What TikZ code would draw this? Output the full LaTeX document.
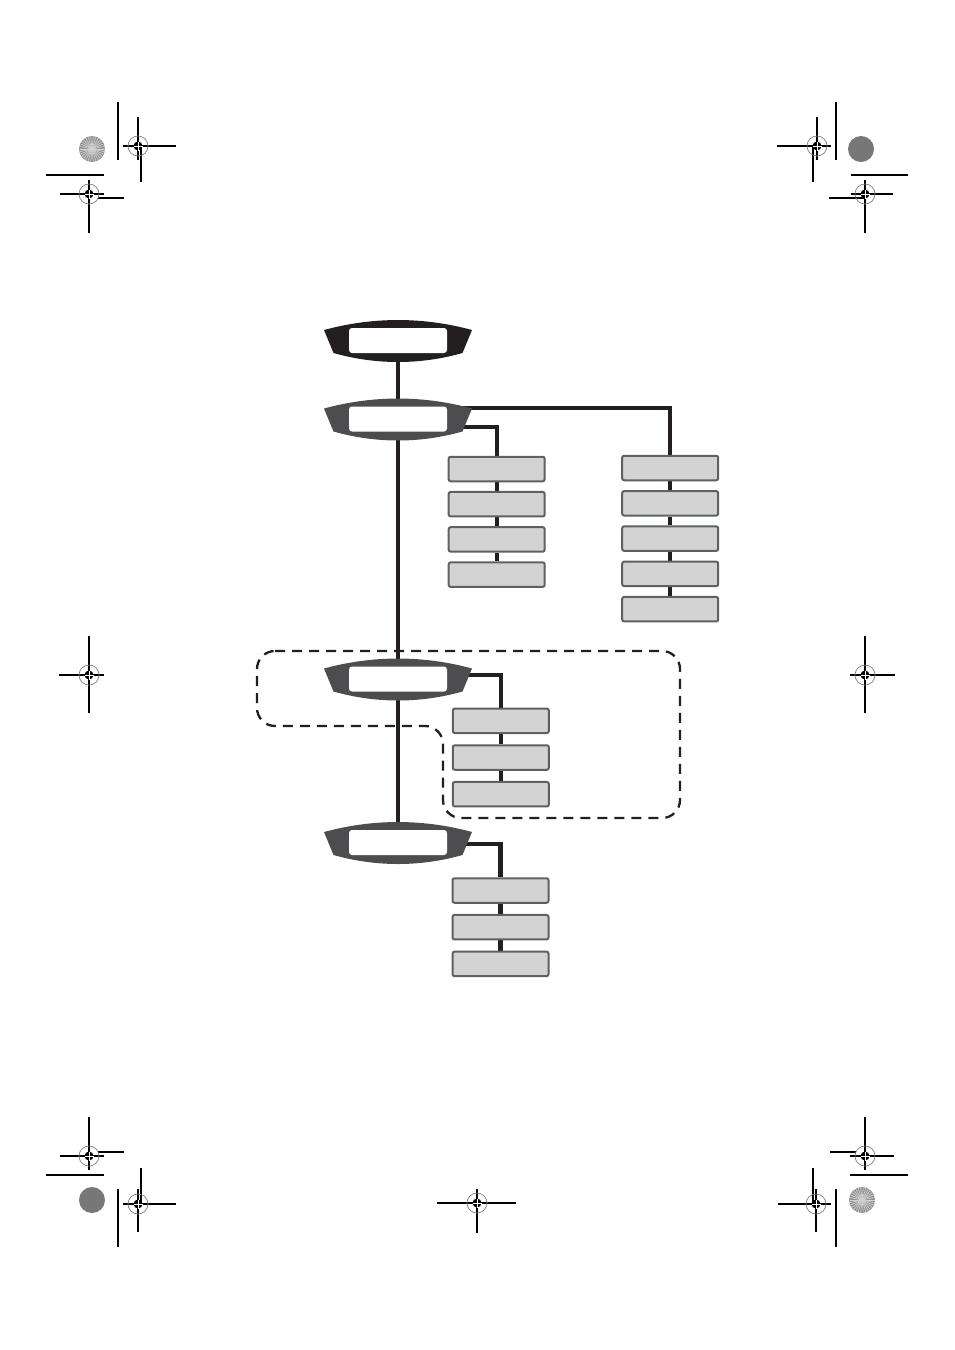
\documentclass[tikz,border=0pt]{standalone}
\usepackage{tikz}
\usetikzlibrary{positioning,backgrounds}
\definecolor{ink}{HTML}{231F20}
\definecolor{slate}{HTML}{4D4D4F}
\definecolor{keyfill}{HTML}{D3D3D3}
\definecolor{keyedge}{HTML}{5D6163}
\definecolor{disk}{HTML}{777777}

\begin{document}
\begin{tikzpicture}[x=1pt, y=-1pt,
  lcd/.style={fill=white, rounded corners=3pt, minimum width=98pt,
    minimum height=25pt, inner sep=0pt},
  pics/screen/.style={code={
    \fill[#1] (-74,-11) .. controls (-25,-24.3) and (25,-24.3) .. (74,-11)
      -- (64.5,12) .. controls (22,24) and (-22,24) .. (-64.5,12) -- cycle;
    \node[lcd] (-lcd) at (0,-0.5) {};
  }},
  key/.style={draw=keyedge, fill=keyfill, line width=2pt, rounded corners=2pt,
    minimum width=96pt, minimum height=24.5pt, inner sep=0pt},
  spine/.style={draw=ink, line width=4.8pt},
  link/.style={draw=ink, line width=4.2pt},
  group/.style={draw=ink, line width=2.3pt, dash pattern=on 10pt off 7pt,
    rounded corners=18pt},
  crop/.style={draw=black, line width=1.2pt},
  pics/target/.style={code={
    \draw[gray, line width=0.7pt] (0,0) circle (10pt);
    \fill[black] (0,0) circle (4.5pt);
    \draw[white, line width=0.7pt] (-4.5,0) -- (4.5,0) (0,-4.5) -- (0,4.5);
  }},
]
  \useasboundingbox (0,0) rectangle (954,1350);

  % menu levels
  \pic (s1) at (398,341) {screen=ink};
  \pic (s2) at (398,419.5) {screen=slate};
  \pic (s3) at (398,679.5) {screen=slate};
  \pic (s4) at (398,843) {screen=slate};

  % submenu entries
  \node[key] (a1) at (496.7,469) {};
  \node[key, below=8.7pt of a1] (a2) {};
  \node[key, below=8.7pt of a2] (a3) {};
  \node[key, below=8.7pt of a3] (a4) {};

  \node[key] (b1) at (670.2,468) {};
  \node[key, below=8.8pt of b1] (b2) {};
  \node[key, below=8.8pt of b2] (b3) {};
  \node[key, below=8.8pt of b3] (b4) {};
  \node[key, below=8.8pt of b4] (b5) {};

  \node[key] (c1) at (500.8,720.8) {};
  \node[key, below=10.2pt of c1] (c2) {};
  \node[key, below=10.2pt of c2] (c3) {};

  \node[key] (d1) at (500.5,890.5) {};
  \node[key, below=10.2pt of d1] (d2) {};
  \node[key, below=10.2pt of d2] (d3) {};

  \begin{scope}[on background layer]
    \fill[white] (0,0) rectangle (954,1350);
    \draw[spine] (s1-lcd) -- (s2-lcd) -- (s3-lcd) -- (s4-lcd);
    \draw[link] ([yshift=11pt]s2-lcd.east) -| (b1);
    \draw[link] ([yshift=-8pt]s2-lcd.east) -| (a1);
    \draw[link] ([yshift=4pt]s3-lcd.east) -| (c1);
    \draw[link] ([yshift=-1.5pt]s4-lcd.east) -| (d1);
    \draw[link] (a1) -- (a2) -- (a3) -- (a4);
    \draw[link] (b1) -- (b2) -- (b3) -- (b4) -- (b5);
    \draw[link] (c1) -- (c2) -- (c3);
    \draw[link] (d1) -- (d2) -- (d3);
  \end{scope}

  % dashed group
  \draw[group] (257,651) -- (680,651) -- (680,818) -- (443,818)
    -- (443,726) -- (257,726) -- cycle;

  % printer's marks
  \fill[gray!85] (92,149) circle (13pt);
  \foreach \a in {0,12,...,348}
    \draw[gray!35, line width=0.6pt] (92,149) -- ++(\a:12.5pt);
  \fill[gray!85] (862,1200) circle (13pt);
  \foreach \a in {0,12,...,348}
    \draw[gray!35, line width=0.6pt] (862,1200) -- ++(\a:12.5pt);
  \fill[disk] (861,149) circle (13pt);
  \fill[disk] (92,1200) circle (13pt);

  \draw[crop] (118,102) -- (118,160) (46,175) -- (104,175);
  \draw[crop] (123,146) -- (176,146) (138,117) -- (138,160) (141,146) -- (141,182);
  \draw[crop] (60,194) -- (104,194) (98,198) -- (124,198) (89,180) -- (89,233);
  \pic at (138,146) {target};
  \pic at (89,194) {target};

  \draw[crop] (836,102) -- (836,160) (851,175) -- (908,175);
  \draw[crop] (777,146) -- (831,146) (817,117) -- (817,160) (813,146) -- (813,182);
  \draw[crop] (851,194) -- (893,194) (829,198) -- (865,198) (865,180) -- (865,233);
  \pic at (817,146) {target};
  \pic at (865,194) {target};

  \draw[crop] (59,675) -- (104,675) (89,636) -- (89,713);
  \draw[crop] (850,675) -- (895,675) (865,636) -- (865,713);
  \pic at (89,675) {target};
  \pic at (865,675) {target};

  \draw[crop] (60,1156) -- (104,1156) (98,1152) -- (124,1152) (89,1117) -- (89,1170);
  \draw[crop] (46,1175) -- (104,1175) (118,1189) -- (118,1247);
  \draw[crop] (123,1204) -- (176,1204) (138,1189) -- (138,1232) (141,1168) -- (141,1205);
  \pic at (89,1156) {target};
  \pic at (138,1204) {target};

  \draw[crop] (850,1156) -- (894,1156) (830,1152) -- (856,1152) (865,1117) -- (865,1170);
  \draw[crop] (850,1175) -- (908,1175) (836,1189) -- (836,1247);
  \draw[crop] (778,1204) -- (831,1204) (816,1189) -- (816,1232) (813,1168) -- (813,1205);
  \pic at (865,1156) {target};
  \pic at (816,1204) {target};

  \draw[crop] (437,1203) -- (516,1203) (477,1189) -- (477,1233);
  \pic at (477,1203) {target};
\end{tikzpicture}
\end{document}
